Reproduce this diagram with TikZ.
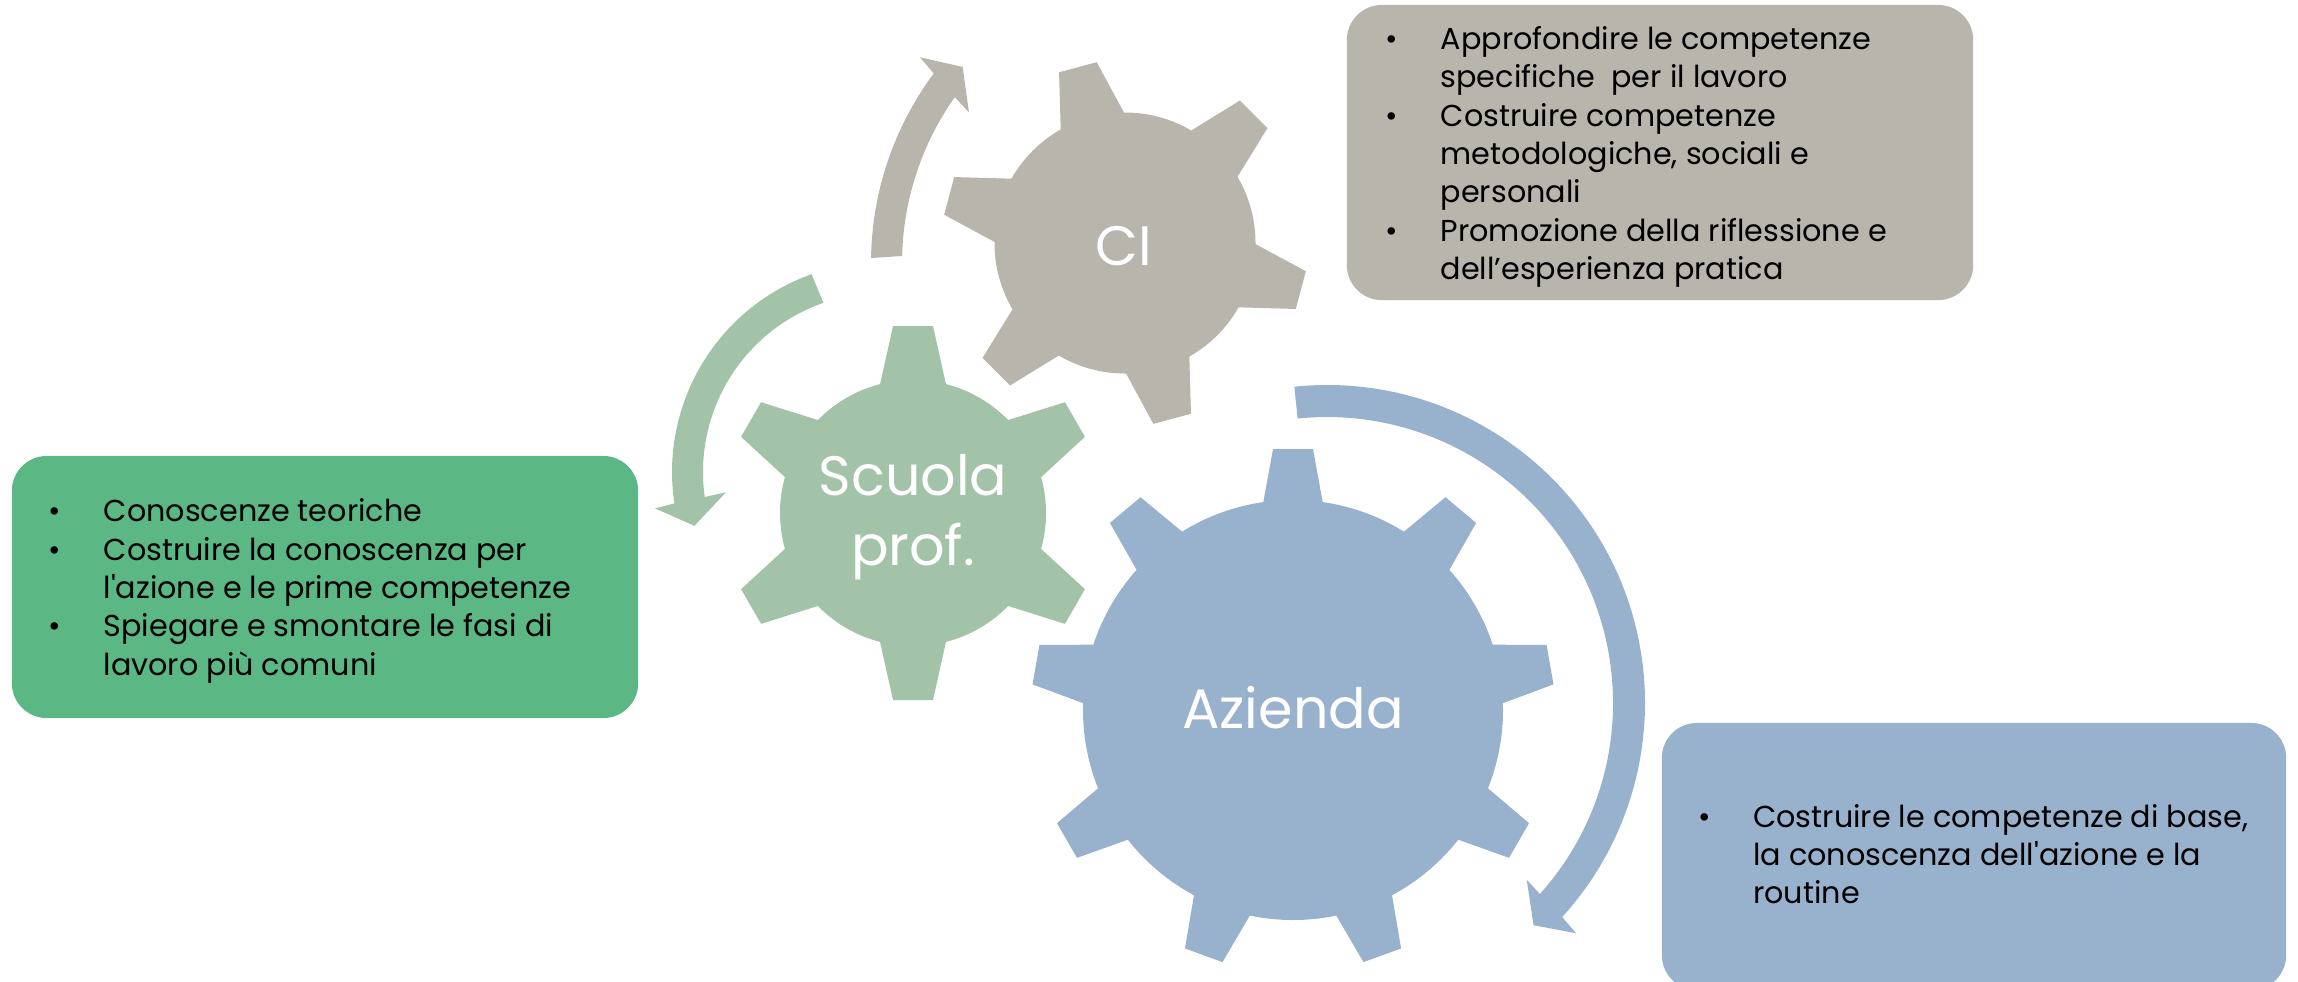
\documentclass[tikz,border=0pt]{standalone}
\usepackage{fontspec}
\setmainfont{Poppins}
\usepackage{array}

\definecolor{cigrey}{HTML}{B7B5AC}
\definecolor{scuolagreen}{HTML}{A3C3A9}
\definecolor{scuoladark}{HTML}{5BB884}
\definecolor{aziendablue}{HTML}{98B2CE}

\begin{document}
\begin{tikzpicture}[x=0.01cm,y=-0.01cm,
		box/.style={rounded corners=0.35cm,inner sep=0pt,minimum width=6.26cm},
		listtext/.style={inner sep=0pt,anchor=base west,font=\fontsize{8.6}{10.9}\selectfont},
		gearlabel/.style={text=white,inner sep=0pt,align=center,font=\fontsize{15.8}{19.9}\selectfont}]
	\useasboundingbox (0,0) rectangle (2298,981);
	% boxes
	\node[box,fill=cigrey,minimum height=2.95cm](cibox) at (1660,152.5){};
	\node[box,fill=scuoladark,minimum height=2.62cm](scuolabox) at (325,587){};
	\node[box,fill=aziendablue,minimum width=6.24cm,minimum height=2.67cm](aziendabox) at (1974,856.5){};
	% CI
	\fill[cigrey](1125,243)circle[radius=130.5];
	\foreach \a in {-135,-75,...,165}
		\fill[cigrey,shift={(1125,243)},rotate=\a](100,-39)--(182,-19.5)--(182,19.5)--(100,39)--cycle;
	\fill[cigrey,shift={(1189,263)}](180.9:318)arc[start angle=180.9,end angle=216.6,radius=318]
		--(217.4:338.7)--(220.9:299.5)--(214.4:266.7)--(215.3:287)
		arc[start angle=215.3,end angle=181.4,radius=287]--cycle;
	% Scuola prof.
	\fill[scuolagreen](913,513)circle[radius=133];
	\foreach \a in {30,90,...,330}
		\fill[scuolagreen,shift={(913,513)},rotate=\a](100,-39.4)--(187,-20)--(187,20)--(100,39.4)--cycle;
	\fill[scuolagreen,shift={(882,472)}](250.4:210)arc[start angle=250.4,end angle=171.4,radius=210]
		--(170.9:229.9)--(164:195.2)--(172.6:157.3)--(172:179)
		arc[start angle=172,end angle=250.9,radius=179]--cycle;
	% Azienda
	\fill[aziendablue](1293,710)circle[radius=210];
	\foreach \a in {-150,-110,...,170}
		\fill[aziendablue,shift={(1293,710)},rotate=\a](180,-34.8)--(261,-20)--(261,20)--(180,34.8)--cycle;
	\fill[aziendablue,shift={(1327,703)}](-95.9:318)arc[start angle=-95.9,end angle=42.3,radius=318]
		--(42.75:339)--(47.1:303.4)--(41.5:266.7)--(41.9:286)
		arc[start angle=41.9,end angle=-95.9,radius=286]--cycle;
	% labels
	\node[gearlabel](ci) at (1124,246){CI};
	\node[gearlabel](scuola) at (913,517){Scuola\\prof.};
	\node[gearlabel,anchor=base](azienda) at (1293,728){Azienda};
	% lists
	\node[listtext](citext) at (1385,49.5){\begin{tabular}[t]{@{}p{0.55cm}@{}l@{}}
		\textbullet & Approfondire le competenze\\
		& specifiche\ \ per il lavoro\\
		\textbullet & Costruire competenze\\
		& metodologiche, sociali e\\
		& personali\\
		\textbullet & Promozione della riflessione e\\
		& dell’esperienza pratica
	\end{tabular}};
	\node[listtext](scuolatext) at (48,521.7){\begin{tabular}[t]{@{}p{0.55cm}@{}l@{}}
		\textbullet & Conoscenze teoriche\\
		\textbullet & Costruire la conoscenza per\\
		& l\textquotesingle azione e le prime competenze\\
		\textbullet & Spiegare e smontare le fasi di\\
		& lavoro più comuni
	\end{tabular}};
	\node[listtext](aziendatext) at (1697.5,827){\begin{tabular}[t]{@{}p{0.55cm}@{}l@{}}
		\textbullet & Costruire le competenze di base,\\
		& la conoscenza dell\textquotesingle azione e la\\
		& routine
	\end{tabular}};
\end{tikzpicture}
\end{document}
